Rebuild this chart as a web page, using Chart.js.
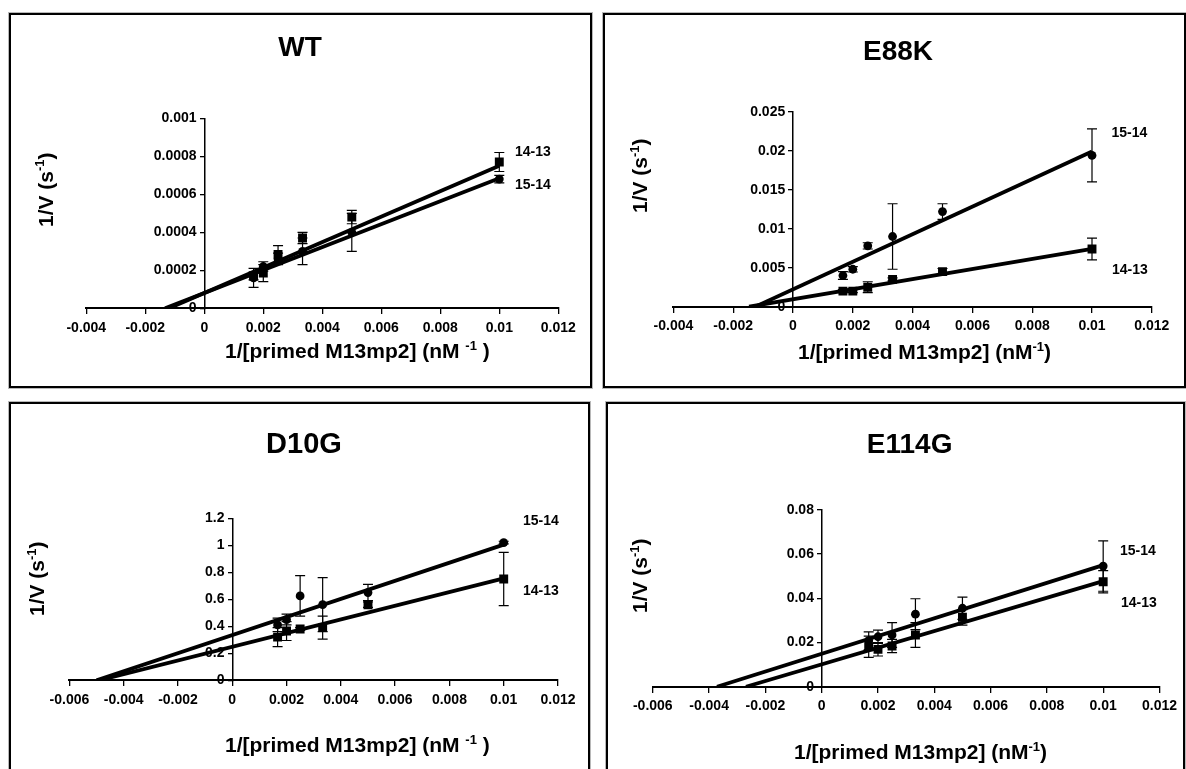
<!DOCTYPE html>
<html><head><meta charset="utf-8">
<script src="https://cdn.jsdelivr.net/npm/chart.js@4/dist/chart.umd.min.js"></script>
<style>
html,body{margin:0;padding:0;background:#fff;width:1186px;height:769px;overflow:hidden}
body{position:relative}
.panel{position:absolute;box-sizing:border-box;border:2px solid #000;box-shadow:0 0 0 1px #b8b8b8;background:#fff;overflow:hidden}
.panel canvas{position:absolute;left:0;top:0}
</style></head><body>
<div class="panel" style="left:9px;top:13px;width:583px;height:375px"><canvas id="c0" width="579" height="371"></canvas></div>
<div class="panel" style="left:603px;top:13px;width:583px;height:375px"><canvas id="c1" width="579" height="371"></canvas></div>
<div class="panel" style="left:9px;top:402px;width:581px;height:380px"><canvas id="c2" width="577" height="376"></canvas></div>
<div class="panel" style="left:606px;top:402px;width:579px;height:380px"><canvas id="c3" width="575" height="376"></canvas></div>
<script>
// ---------------- data ----------------
const xConc = [0.00167, 0.002, 0.0025, 0.00333, 0.005, 0.01];
const seriesNames = ['15-14', '14-13'];
const fitEndX = 0.01;

// WT
const wt_15_14     = [0.00016, 0.00022, 0.00026, 0.0003, 0.0004, 0.00068];
const wt_15_14_err = [0.00005, 0.000025, 0.00003, 0.00007, 0.0001, 0.00002];
const wt_14_13     = [0.00017, 0.000185, 0.000284, 0.00037, 0.00048, 0.00077];
const wt_14_13_err = [0.00002, 0.000045, 0.000046, 0.00003, 0.000035, 0.00005];
const wt_fit_xint  = [-0.00133, -0.0012];
const wt_fit_yend  = [0.000685, 0.00075];

// E88K
const e88k_15_14     = [0.004, 0.0048, 0.0078, 0.009, 0.0122, 0.0194];
const e88k_15_14_err = [0.0005, 0.00035, 0.0004, 0.0042, 0.001, 0.0034];
const e88k_14_13     = [0.002, 0.002, 0.0025, 0.0035, 0.0045, 0.0074];
const e88k_14_13_err = [0.0002, 0.0002, 0.0007, 0.0002, 0.0004, 0.0014];
const e88k_fit_xint  = [-0.00126, -0.00147];
const e88k_fit_yend  = [0.0199, 0.0074];

// D10G
const d10g_15_14     = [0.41, 0.45, 0.625, 0.56, 0.65, 1.02];
const d10g_15_14_err = [0.05, 0.04, 0.15, 0.2, 0.06, 0.01];
const d10g_14_13     = [0.32, 0.365, 0.38, 0.39, 0.56, 0.75];
const d10g_14_13_err = [0.07, 0.07, 0.01, 0.085, 0.02, 0.197];
const d10g_fit_xint  = [-0.0050, -0.0049];
const d10g_fit_yend  = [1.005, 0.755];

// E114G
const e114g_15_14     = [0.0208, 0.0226, 0.0234, 0.0328, 0.0355, 0.0546];
const e114g_15_14_err = [0.004, 0.003, 0.0056, 0.007, 0.005, 0.0114];
const e114g_14_13     = [0.0181, 0.0169, 0.0184, 0.0234, 0.0314, 0.0475];
const e114g_14_13_err = [0.0048, 0.003, 0.003, 0.0056, 0.0035, 0.005];
const e114g_fit_xint  = [-0.00372, -0.00269];
const e114g_fit_yend  = [0.055, 0.0478];

// tick labels
const xTicksTop    = ['-0.004','-0.002','0','0.002','0.004','0.006','0.008','0.01','0.012'];
const xTicksBottom = ['-0.006','-0.004','-0.002','0','0.002','0.004','0.006','0.008','0.01','0.012'];
const wtYTicks    = ['0','0.0002','0.0004','0.0006','0.0008','0.001'];
const e88kYTicks  = ['0','0.005','0.01','0.015','0.02','0.025'];
const d10gYTicks  = ['0','0.2','0.4','0.6','0.8','1','1.2'];
const e114gYTicks = ['0','0.02','0.04','0.06','0.08'];

const panelTitles = ['WT','E88K','D10G','E114G'];
const xTitleSpaced = [['1/[primed M13mp2] (nM ', false], ['-1', true], [' )', false]];
const xTitleTight  = [['1/[primed M13mp2] (nM', false], ['-1', true], [')', false]];
const yTitle       = [['1/V (s', false], ['-1', true], [')', false]];

// ---------------- layout / style ----------------
const FONT = "'Liberation Sans', Arial, Helvetica, sans-serif";
const Y_LABEL_GAP = '  ';
const PANELS = [
  { title: panelTitles[0], titleSize: 28, titlePos: [289, 41],
    xTicks: xTicksTop, yTicks: wtYTicks,
    pad: {left: 75.3, right: 31.7, top: 103.3, bottom: 77.7},
    xTitle: xTitleSpaced, xTitlePos: [214, 343], yTitlePos: [41.7, 212],
    series: [
      {name: seriesNames[0], y: wt_15_14, err: wt_15_14_err, style: 'circle', xint: wt_fit_xint[0], yend: wt_fit_yend[0], labelPos: [504, 174]},
      {name: seriesNames[1], y: wt_14_13, err: wt_14_13_err, style: 'rect',   xint: wt_fit_xint[1], yend: wt_fit_yend[1], labelPos: [504, 141]}
    ]},
  { title: panelTitles[1], titleSize: 28, titlePos: [293, 44.5],
    xTicks: xTicksTop, yTicks: e88kYTicks,
    pad: {left: 68.4, right: 32.2, top: 96.7, bottom: 79.3},
    xTitle: xTitleTight, xTitlePos: [193, 344], yTitlePos: [42, 198],
    series: [
      {name: seriesNames[0], y: e88k_15_14, err: e88k_15_14_err, style: 'circle', xint: e88k_fit_xint[0], yend: e88k_fit_yend[0], labelPos: [506.5, 121.7]},
      {name: seriesNames[1], y: e88k_14_13, err: e88k_14_13_err, style: 'rect',   xint: e88k_fit_xint[1], yend: e88k_fit_yend[1], labelPos: [507, 259.3]}
    ]},
  { title: panelTitles[2], titleSize: 29, titlePos: [293, 48.5],
    xTicks: xTicksBottom, yTicks: d10gYTicks,
    pad: {left: 58.4, right: 30, top: 114.3, bottom: 99.7},
    xTitle: xTitleSpaced, xTitlePos: [214, 348], yTitlePos: [33.4, 212],
    series: [
      {name: seriesNames[0], y: d10g_15_14, err: d10g_15_14_err, style: 'circle', xint: d10g_fit_xint[0], yend: d10g_fit_yend[0], labelPos: [512, 121]},
      {name: seriesNames[1], y: d10g_14_13, err: d10g_14_13_err, style: 'rect',   xint: d10g_fit_xint[1], yend: d10g_fit_yend[1], labelPos: [512, 191]}
    ]},
  { title: panelTitles[3], titleSize: 28, titlePos: [301.6, 49],
    xTicks: xTicksBottom, yTicks: e114gYTicks,
    pad: {left: 44.8, right: 21, top: 105.9, bottom: 93.3},
    xTitle: xTitleTight, xTitlePos: [186, 355], yTitlePos: [39, 209],
    series: [
      {name: seriesNames[0], y: e114g_15_14, err: e114g_15_14_err, style: 'circle', xint: e114g_fit_xint[0], yend: e114g_fit_yend[0], labelPos: [512, 151]},
      {name: seriesNames[1], y: e114g_14_13, err: e114g_14_13_err, style: 'rect',   xint: e114g_fit_xint[1], yend: e114g_fit_yend[1], labelPos: [513, 202.7]}
    ]}
];

function drawRich(ctx, parts, x, y, size) {
  let cx = x;
  for (const [t, sup] of parts) {
    const fs = sup ? Math.round(size * 0.62) : size;
    ctx.font = 'bold ' + fs + 'px ' + FONT;
    ctx.fillText(t, cx, sup ? y - size * 0.4 : y);
    cx += ctx.measureText(t).width;
  }
}

const errorBars = {
  id: 'errorBars',
  beforeDatasetsDraw(chart) {
    const ctx = chart.ctx, xs = chart.scales.x, ys = chart.scales.y;
    ctx.save();
    ctx.strokeStyle = '#000';
    ctx.lineWidth = 1.2;
    chart.data.datasets.forEach(ds => {
      if (!ds.err) return;
      ds.data.forEach((pt, j) => {
        const px = xs.getPixelForValue(pt.x);
        const y1 = ys.getPixelForValue(pt.y + ds.err[j]);
        const y2 = ys.getPixelForValue(pt.y - ds.err[j]);
        ctx.beginPath();
        ctx.moveTo(px, y1); ctx.lineTo(px, y2);
        ctx.moveTo(px - 5, y1); ctx.lineTo(px + 5, y1);
        ctx.moveTo(px - 5, y2); ctx.lineTo(px + 5, y2);
        ctx.stroke();
      });
    });
    ctx.restore();
  }
};

const texts = {
  id: 'texts',
  afterDraw(chart) {
    const p = chart.options.plugins.texts.panel;
    const ctx = chart.ctx;
    ctx.save();
    ctx.fillStyle = '#000';
    ctx.textBaseline = 'alphabetic';
    ctx.font = 'bold ' + p.titleSize + 'px ' + FONT;
    ctx.textAlign = 'center';
    ctx.fillText(p.title, p.titlePos[0], p.titlePos[1]);
    ctx.textAlign = 'left';
    drawRich(ctx, p.xTitle, p.xTitlePos[0], p.xTitlePos[1], 21);
    ctx.save();
    ctx.translate(p.yTitlePos[0], p.yTitlePos[1]);
    ctx.rotate(-Math.PI / 2);
    drawRich(ctx, yTitle, 0, 0, 21);
    ctx.restore();
    ctx.font = 'bold 14px ' + FONT;
    p.series.forEach(s => ctx.fillText(s.name, s.labelPos[0], s.labelPos[1]));
    ctx.restore();
  }
};

function makeChart(p, i) {
  const xNums = p.xTicks.map(Number), yNums = p.yTicks.map(Number);
  const datasets = [];
  p.series.forEach(s => datasets.push({
    label: s.name + ' fit', data: [{x: s.xint, y: 0}, {x: fitEndX, y: s.yend}],
    showLine: true, borderColor: '#000', borderWidth: 3.8, pointRadius: 0, order: 0, fill: false
  }));
  p.series.forEach(s => datasets.push({
    label: s.name, data: xConc.map((x, j) => ({x: x, y: s.y[j]})), err: s.err,
    pointStyle: s.style, pointRadius: s.style === 'rect' ? 6.3 : 4.4,
    backgroundColor: '#000', borderColor: '#000', borderWidth: 0, showLine: false, order: 1
  }));
  const tickFont = {family: FONT, size: 14, weight: 'bold'};
  new Chart(document.getElementById('c' + i), {
    type: 'scatter',
    data: {datasets},
    options: {
      responsive: false, animation: false, devicePixelRatio: 1,
      layout: {padding: p.pad},
      plugins: {legend: {display: false}, tooltip: {enabled: false}, title: {display: false}, texts: {panel: p}},
      scales: {
        x: {
          type: 'linear', min: xNums[0], max: xNums[xNums.length - 1], position: {y: 0},
          afterBuildTicks: sc => { sc.ticks = xNums.map(v => ({value: v})); },
          ticks: {autoSkip: false, maxRotation: 0, minRotation: 0, padding: 6, color: '#000', font: tickFont,
                  callback: (v, k) => p.xTicks[k]},
          grid: {drawOnChartArea: false, drawTicks: true, tickLength: 5, color: '#000', lineWidth: 1.3},
          border: {display: true, color: '#000', width: 2}
        },
        y: {
          type: 'linear', min: yNums[0], max: yNums[yNums.length - 1], position: {x: 0},
          afterBuildTicks: sc => { sc.ticks = yNums.map(v => ({value: v})); },
          ticks: {autoSkip: false, padding: 4, color: '#000', font: tickFont,
                  callback: (v, k) => p.yTicks[k] + Y_LABEL_GAP},
          grid: {drawOnChartArea: false, drawTicks: true, tickLength: 4, color: '#000', lineWidth: 1.3},
          border: {display: true, color: '#000', width: 1.5}
        }
      }
    },
    plugins: [errorBars, texts]
  });
}
PANELS.forEach(makeChart);
</script>
</body></html>
